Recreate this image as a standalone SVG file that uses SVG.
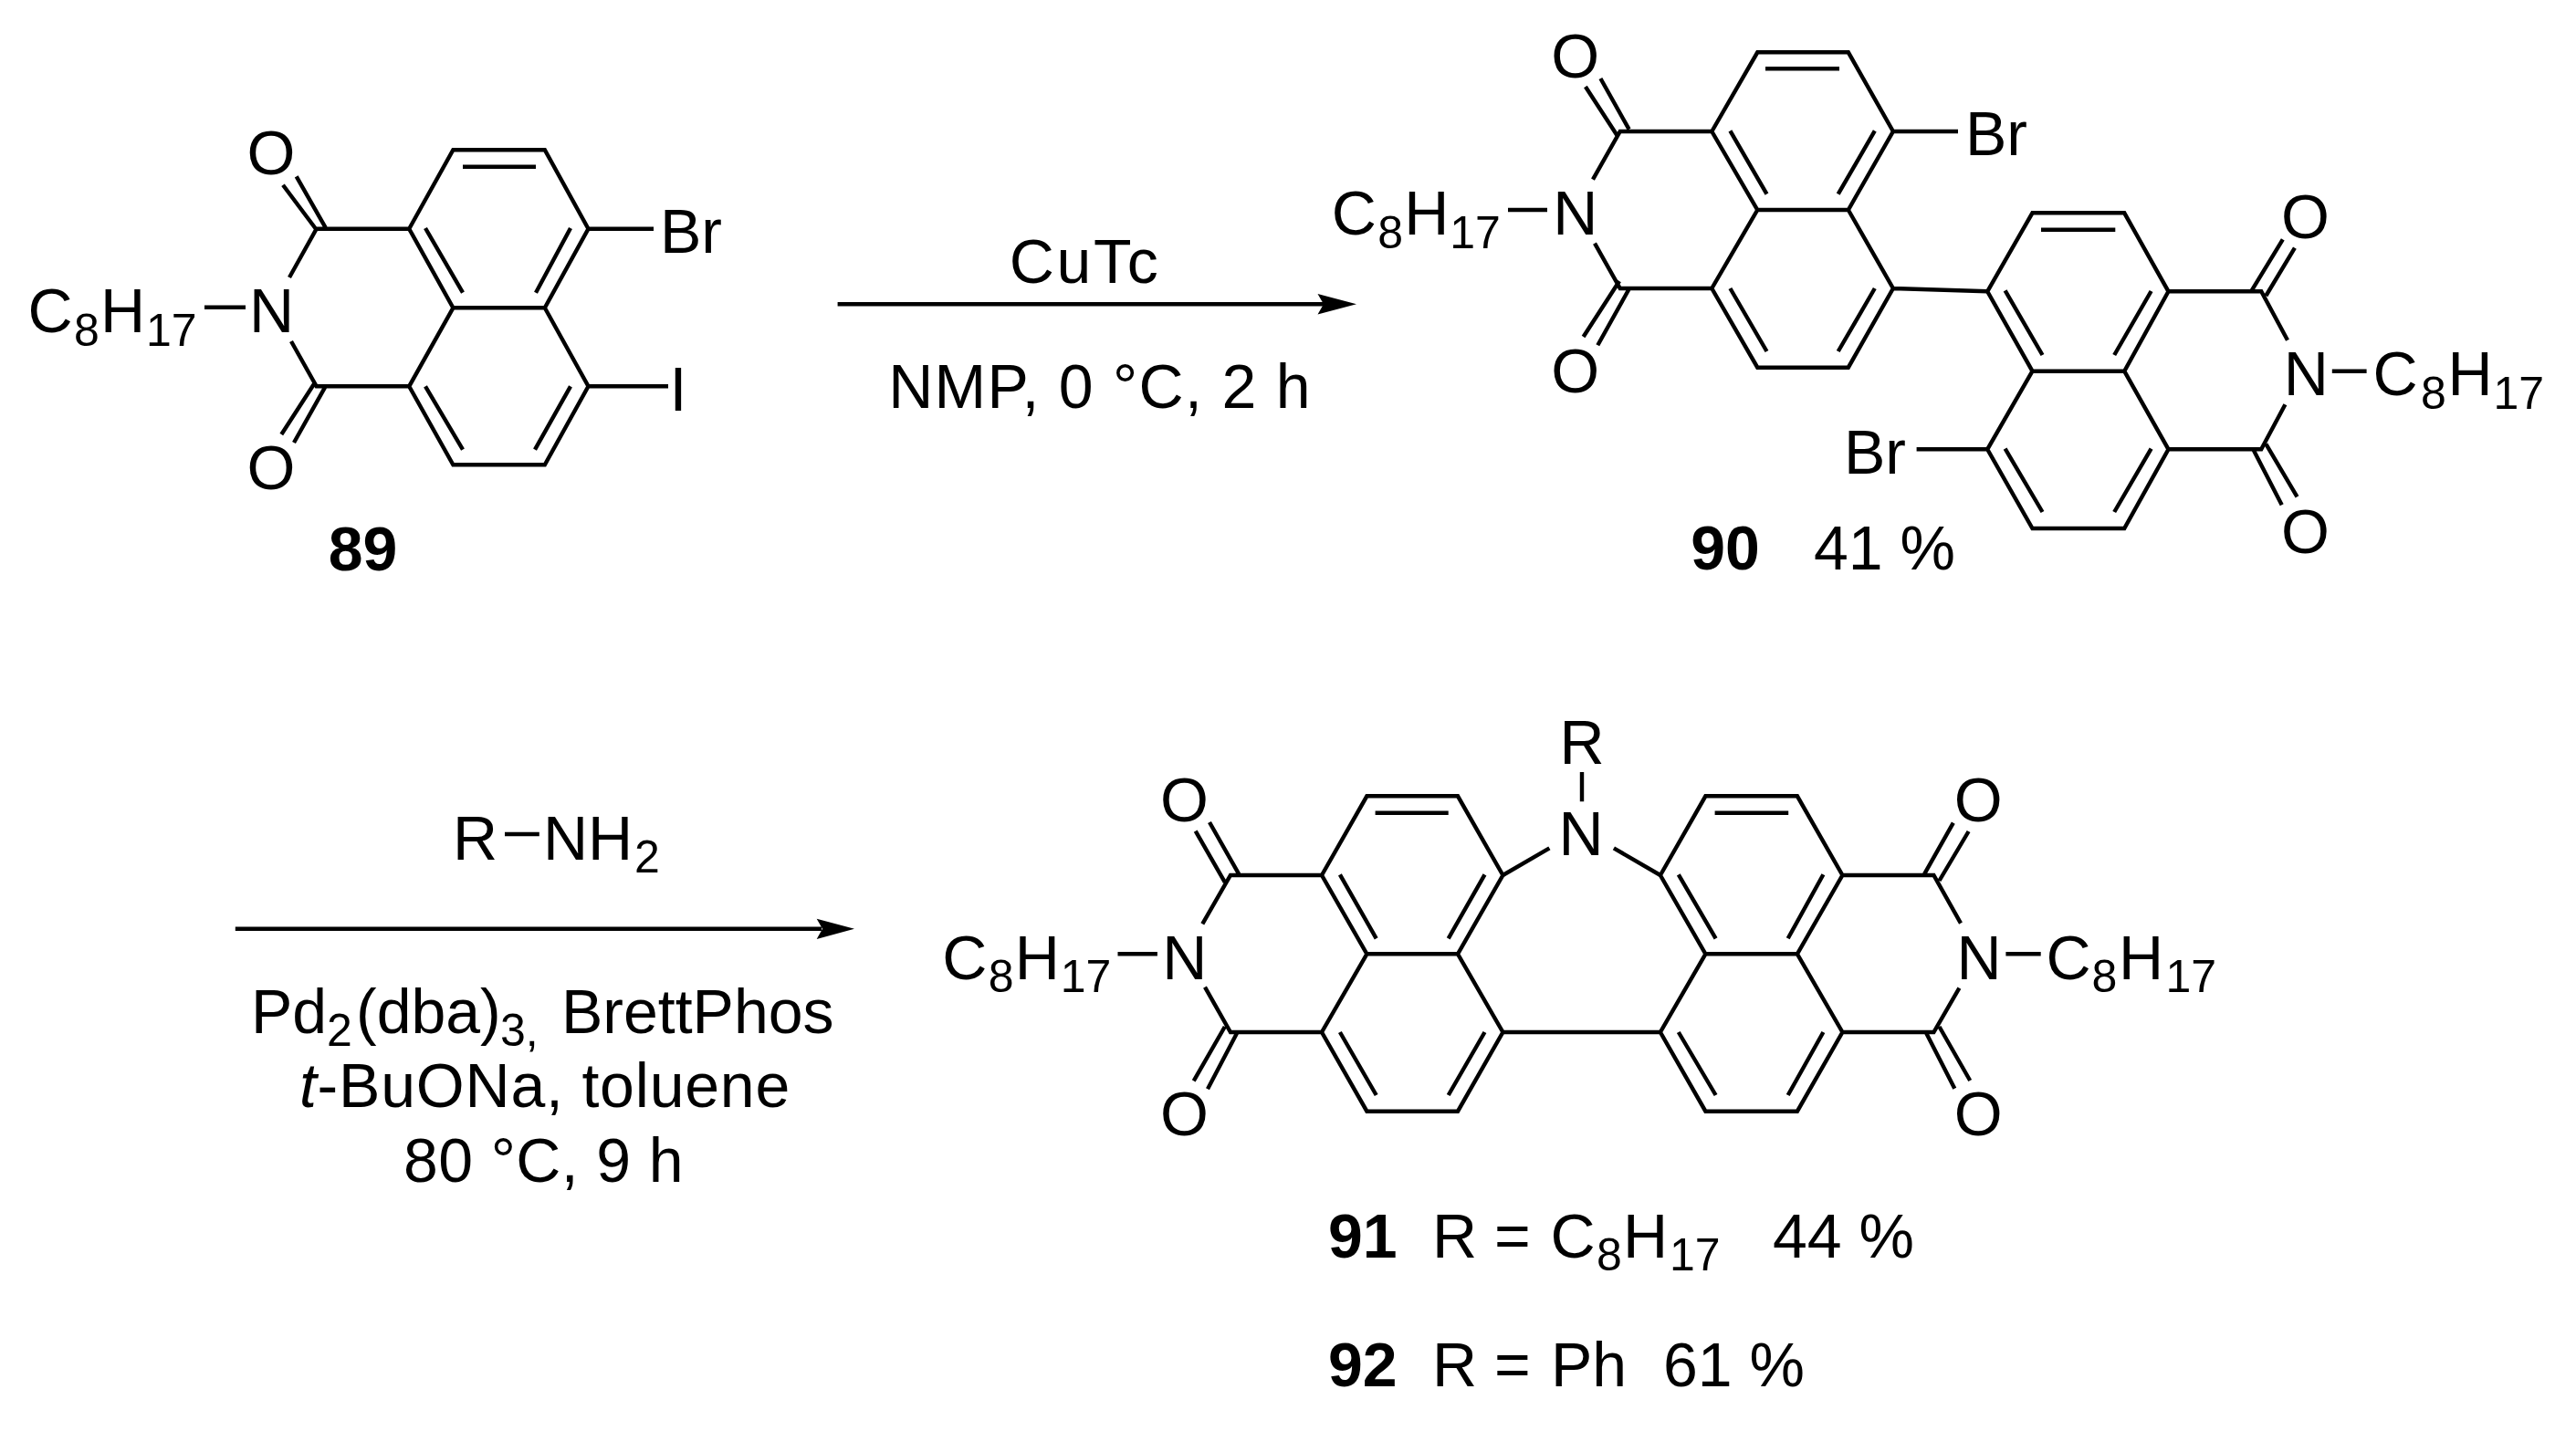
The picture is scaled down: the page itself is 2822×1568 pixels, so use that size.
<svg xmlns="http://www.w3.org/2000/svg" width="2822" height="1568" viewBox="0 0 2822 1568">
<style>
text{font-family:"Liberation Sans",Arial,sans-serif;font-size:68px;fill:#000}
.m{text-anchor:middle}
.s{font-size:50px}
.b{font-weight:bold}
.i{font-style:italic}
.bond{fill:none;stroke:#000;stroke-width:4.4;stroke-linejoin:miter;stroke-linecap:butt}
.arrow{fill:none;stroke:#000;stroke-width:4.6}
.head{fill:#000;stroke:none}
</style>
<rect width="2822" height="1568" fill="#fff"/>
<g id="connectors">
<path class="arrow" d="M917.6 333.3H1450"/>
<path class="head" d="M1486 333.3L1443.5 322L1450 333.3L1443.5 344.6Z"/>
<path class="arrow" d="M257.8 1017.7H900"/>
<path class="head" d="M936 1017.7L894.7 1006.7L901 1017.7L894.7 1029Z"/>
</g>
<g id="compound-89">
<path class="bond" d="M448.2 250.7L496.4 164.3H596.8L644.5 250.7L596.8 337.3H496.4ZM496.4 337.3L448.2 423.3L496.4 509.3H596.8L644.5 423.3L596.8 337.3M507 182.7H587M466 250L507 320.7M625 250L587 320.7M466 423.3L507 492.7M625 423.3L586 492.7M448.2 250.7H346.7L317 304M356.6 249.3L324.7 193.3M346.7 251.7L310 202.7M319 374L346.7 423.3H448.2M356.6 423.3L322 485M344.5 420L308.3 476M644.5 250.7H716M644.5 423.3H732M224 336.7H269"/>
<text class="m" x="297.5" y="364">N</text>
<text class="m" x="297" y="191">O</text>
<text class="m" x="297" y="536">O</text>
<text x="723" y="277">Br</text>
<text class="m" x="743" y="450">I</text>
<text y="364"><tspan x="30.5">C</tspan><tspan x="81" y="379" class="s">8</tspan><tspan x="110" y="364">H</tspan><tspan x="160" y="379" class="s">17</tspan></text>
<text class="m b" x="397.5" y="625">89</text>
</g>
<g id="reagents-1">
<text class="m" x="1188.5" y="310" style="letter-spacing:2.7px">CuTc</text>
<text class="m" x="1205" y="447.3" style="letter-spacing:1.3px">NMP, 0 °C, 2 h</text>
</g>
<g id="compound-90">
<path class="bond" d="M1875.3 144L1925.3 57.3H2024.8L2073.9 144L2024.8 230H1925.3ZM1925.3 230L1875.3 316L1925.3 402.7H2024.8L2073.9 316L2024.8 230M1934 75.3H2015M1895.4 143.3L1935.5 212.7M2053.8 143.3L2013.7 212.7M1895.4 316L1935.5 385M2053.8 316L2013.7 385M1875.3 144H1774.8L1745 196.7M1784.6 141.7L1753.4 86M1772.6 150L1736.9 95M1747 266.7L1774.8 316H1875.3M1784.6 316.7L1750.3 378.3M1774 308L1734.6 369M2073.9 144H2145M1652 230H1695M2073.9 316L2177.2 319.3"/>
<path class="bond" d="M2177.2 319.3L2226.5 233.3H2327.2L2375.5 319.3L2327.2 406.7H2226.5ZM2226.5 406.7L2177.2 492.3L2226.5 579H2327.2L2375.5 492.3L2327.2 406.7M2236 251.7H2317.3M2196.6 318.3L2237.5 389M2356.6 319L2316.2 389M2196.6 491.7L2237.5 561M2356.6 491.7L2316.2 561M2375.5 319.3H2477.2L2506 372.7M2466.7 318.3L2500.8 262.3M2482.4 324L2513.9 271.7M2503.4 443.3L2477.2 492.3H2375.5M2468.3 492.3L2499.7 553.3M2482.4 486.7L2516.5 544.3M2099.6 492.3H2177.2M2554.8 406.7H2592.6"/>
<text class="m" x="1725.7" y="256.7">N</text>
<text class="m" x="1725.7" y="84.5">O</text>
<text class="m" x="1725.7" y="429.5">O</text>
<text x="2153" y="170.3">Br</text>
<text y="256.7"><tspan x="1458.7">C</tspan><tspan x="1509.2" y="271.7" class="s">8</tspan><tspan x="1538.2" y="256.7">H</tspan><tspan x="1588.2" y="271.7" class="s">17</tspan></text>
<text class="m" x="2526.2" y="433.3">N</text>
<text class="m" x="2525.4" y="261">O</text>
<text class="m" x="2525.4" y="606">O</text>
<text x="2020" y="519">Br</text>
<text y="433.3"><tspan x="2599.6">C</tspan><tspan x="2652" y="447.7" class="s">8</tspan><tspan x="2681.6" y="433.3">H</tspan><tspan x="2731.5" y="447.7" class="s">17</tspan></text>
<text class="m b" x="1890" y="624">90</text>
<text x="1987" y="624">41 %</text>
</g>
<g id="reagents-2">
<text y="941.7"><tspan x="496">R</tspan><tspan x="595">NH</tspan><tspan x="695" y="956" class="s">2</tspan></text>
<path class="bond" d="M553 914H590.8"/>
<text y="1131.7"><tspan x="275">Pd</tspan><tspan x="358" y="1146" class="s">2</tspan><tspan x="390" y="1131.7">(dba)</tspan><tspan x="548" y="1146" class="s">3,</tspan><tspan x="615" y="1131.7">BrettPhos</tspan></text>
<text class="m" x="597" y="1213.3" style="letter-spacing:.8px"><tspan class="i">t</tspan>-BuONa, toluene</text>
<text class="m" x="595.5" y="1295" style="letter-spacing:.4px">80 °C, 9 h</text>
</g>
<g id="compound-91-92">
<path class="bond" d="M1448 959L1497.4 872.3H1597L1646.4 959L1597 1045.3H1497.4ZM1497.4 1045.3L1448 1131L1497.4 1217.7H1597L1646.4 1131L1597 1045.3M1506.6 890.7H1586.7M1467.9 958.3L1507.7 1028.3M1626.5 958.3L1586.7 1028.3M1467.9 1131L1507.7 1200M1626.5 1131L1586.7 1200M1448 959H1348L1317.3 1012.3M1357.1 957.7L1325 901M1341.8 966.7L1309.7 910.7M1320 1081.7L1348 1131H1448M1355.6 1131L1323 1193.3M1341.8 1125L1307.7 1184.3M1224.5 1045.3H1267.9"/>
<path class="bond" d="M1818.9 959L1868.4 872.3H1968.9L2018.4 959L1968.9 1045.3H1868.4ZM1868.4 1045.3L1818.9 1131L1868.4 1217.7H1968.9L2018.4 1131L1968.9 1045.3M1878.6 890.7H1959.2M1838.8 958.3L1879.6 1028.3M1997.4 958.3L1958.7 1028.3M1838.8 1131L1879.6 1200M1997.4 1131L1958.7 1200M2018.4 959H2118.4L2148 1011.7M2108.2 957.7L2139.8 901.7M2124.5 965L2156.6 911M2146.4 1082.7L2118.4 1131H2018.4M2109.7 1131L2141.3 1192.7M2124.5 1125L2158.2 1184M2197.4 1045.3H2235.7"/>
<path class="bond" d="M1646.4 1131H1818.9M1646.4 959L1697.4 929.3M1767.9 929.3L1818.9 959M1733 846V878.3"/>
<text class="m" x="1732" y="936.7">N</text>
<text class="m" x="1733" y="836.5">R</text>
<text class="m" x="1297.7" y="1072.7">N</text>
<text class="m" x="1297.4" y="900">O</text>
<text class="m" x="1297.4" y="1244">O</text>
<text y="1072.7"><tspan x="1032.3">C</tspan><tspan x="1082.8" y="1086.7" class="s">8</tspan><tspan x="1111.8" y="1072.7">H</tspan><tspan x="1161.8" y="1086.7" class="s">17</tspan></text>
<text class="m" x="2168" y="1072.7">N</text>
<text class="m" x="2167.3" y="900">O</text>
<text class="m" x="2167.3" y="1244">O</text>
<text y="1072.7"><tspan x="2241.6">C</tspan><tspan x="2291.5" y="1086.7" class="s">8</tspan><tspan x="2321" y="1072.7">H</tspan><tspan x="2372.5" y="1086.7" class="s">17</tspan></text>
<text y="1377.7"><tspan x="1455" class="b">91</tspan><tspan x="1569">R = </tspan><tspan x="1698.6">C</tspan><tspan x="1749" y="1391.7" class="s">8</tspan><tspan x="1778" y="1377.7">H</tspan><tspan x="1829" y="1391.7" class="s">17</tspan><tspan x="1942" y="1377.7">44 %</tspan></text>
<text y="1519.3"><tspan x="1455" class="b">92</tspan><tspan x="1569">R = </tspan><tspan x="1699">Ph</tspan><tspan x="1822">61 %</tspan></text>
</g>
</svg>
